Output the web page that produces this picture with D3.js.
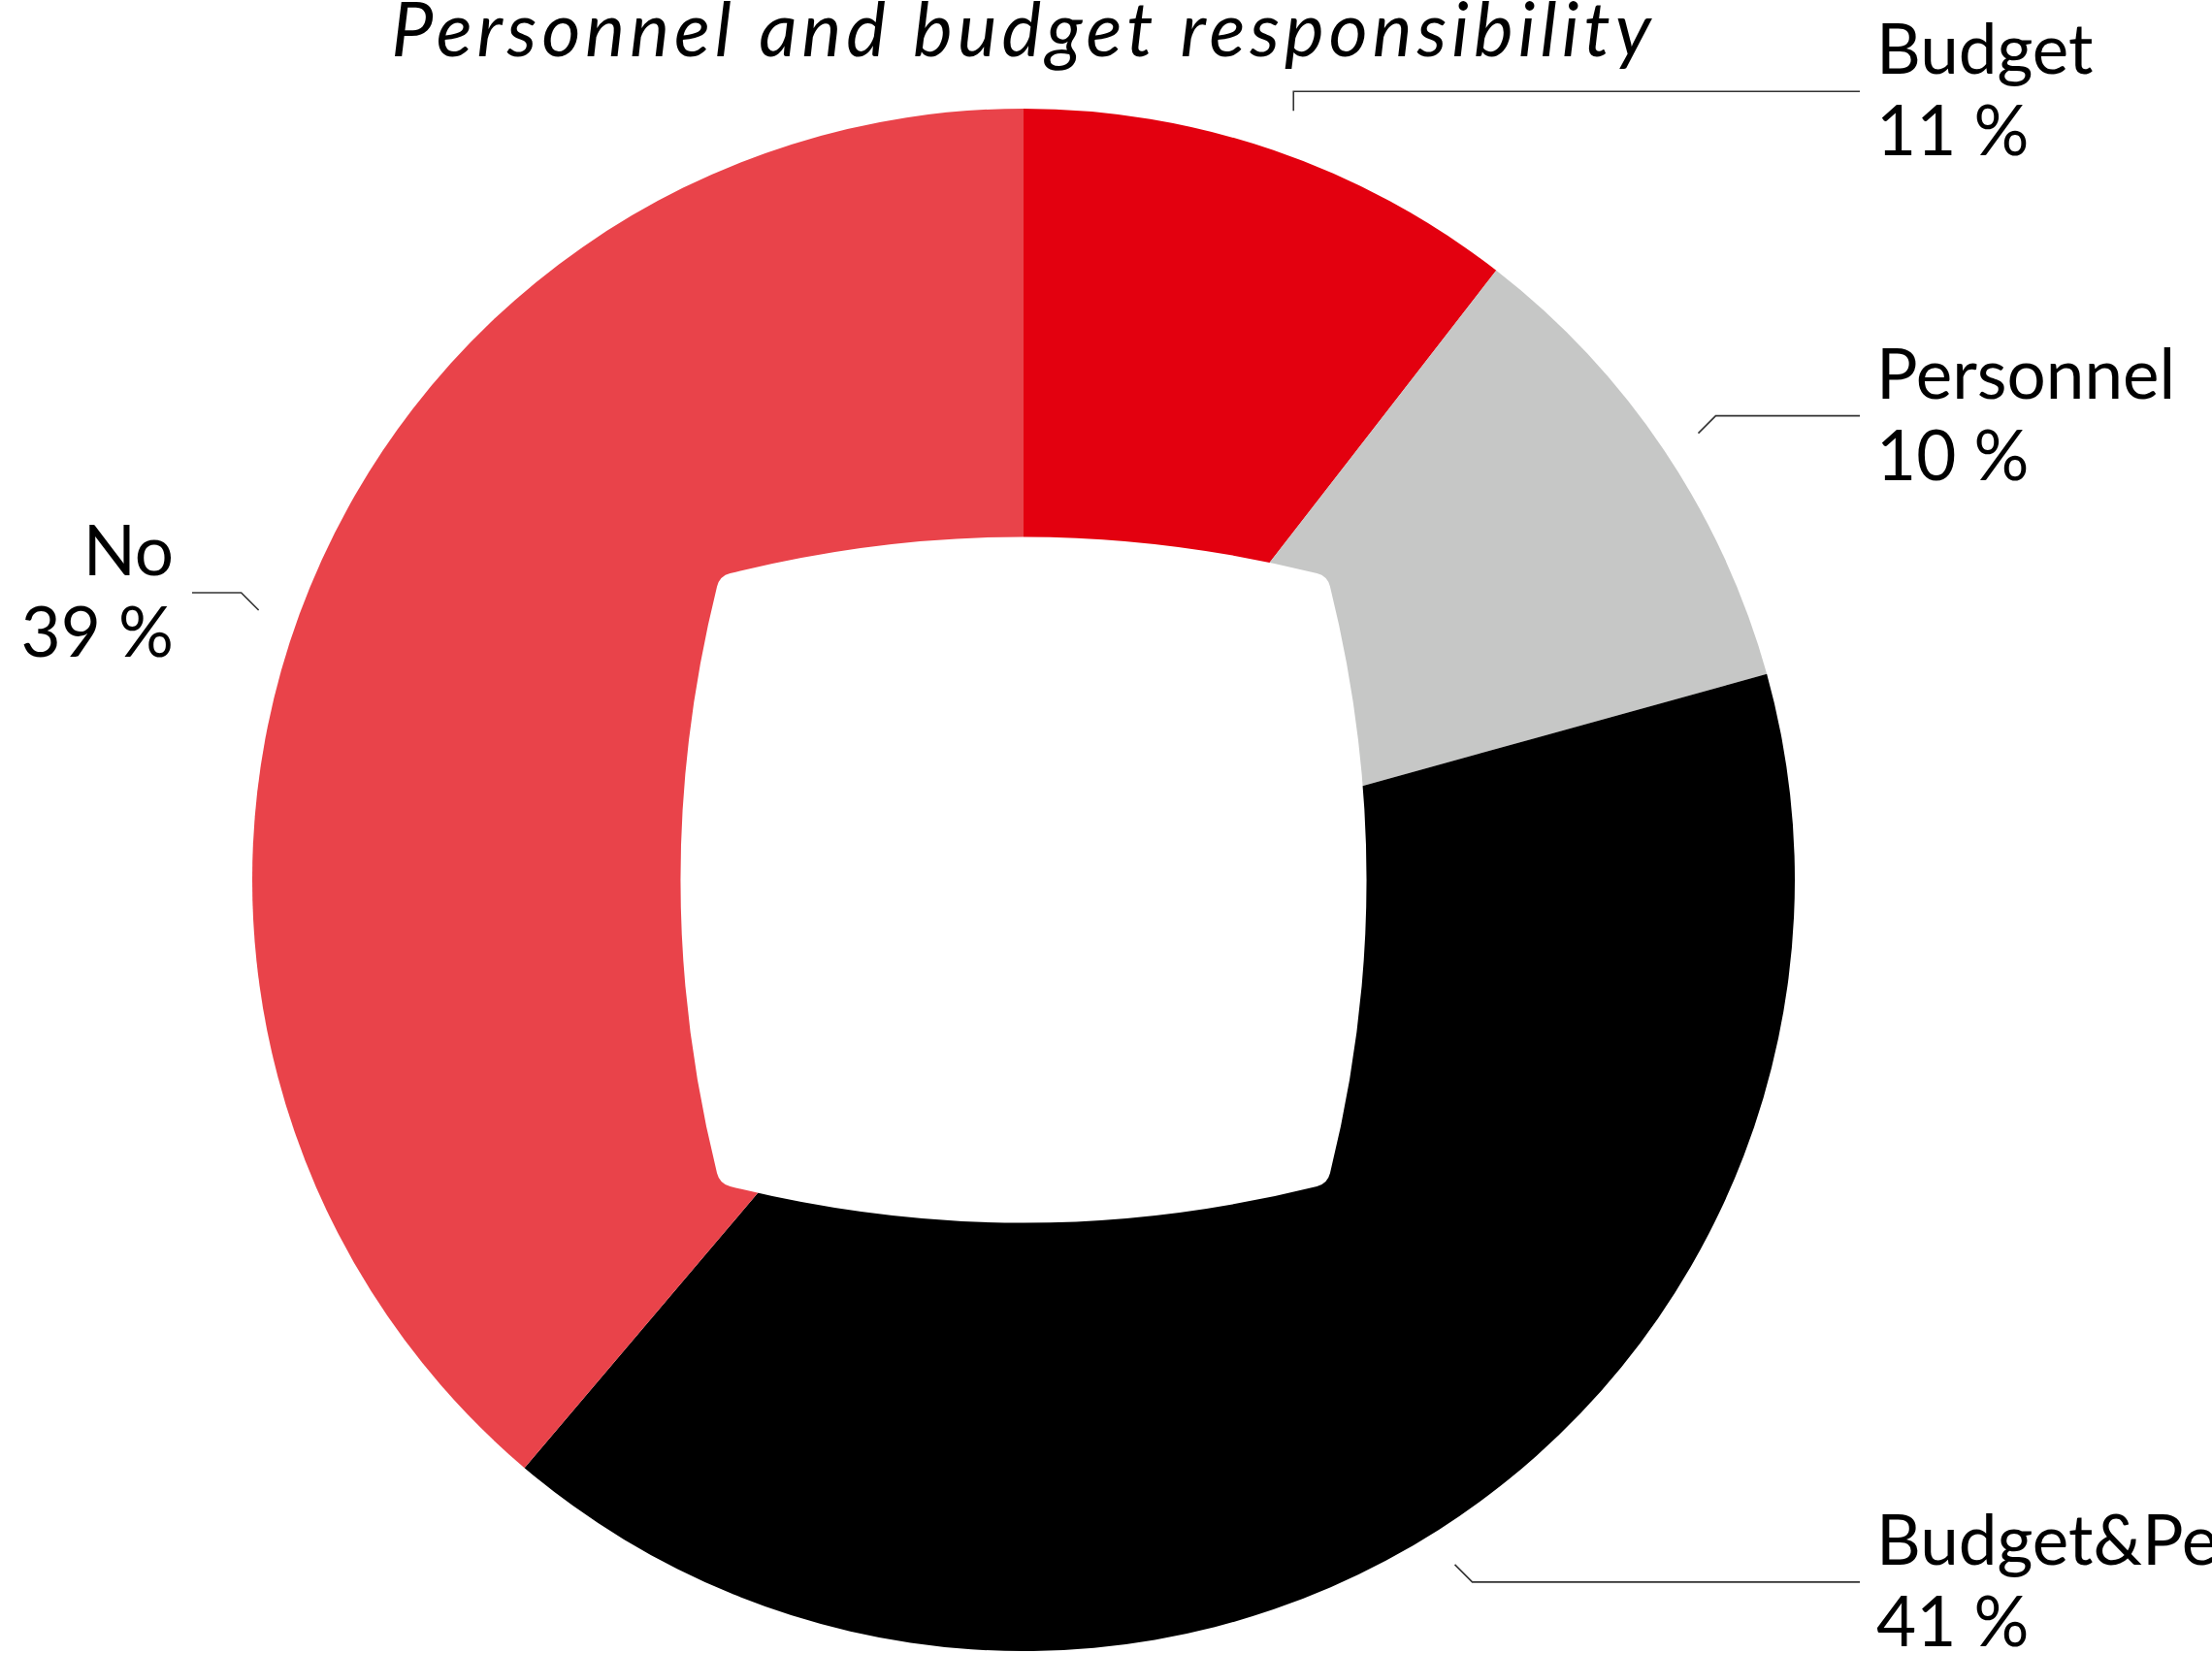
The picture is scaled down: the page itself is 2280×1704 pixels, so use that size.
<!DOCTYPE html>
<html>
<head>
<meta charset="utf-8">
<title>Personnel and budget responsibility</title>
<script src="https://cdn.jsdelivr.net/npm/d3@7"></script>
<style>
  body { margin: 0; background: #fff; }
  svg { display: block; }
</style>
</head>
<body>
<svg id="chart"></svg>
<script>
// data
var categories = ["Budget", "Personnel", "Budget&Personnel", "No"];
var shares = [10.5, 10.2, 40.5, 38.8];
var colors = ["#e3000f", "#c6c7c6", "#000000", "#e9434a"];
var title = "Personnel and budget responsibility";

var width = 2280, height = 1704;
var cx = 1055, cy = 907, R = 795;

var svg = d3.select("#chart")
  .attr("width", width)
  .attr("height", height)
  .style("font-family", "Lato, 'Noto Sans', sans-serif");

var data = categories.map(function(c, i) { return {name: c, value: shares[i], color: colors[i]}; });

var pie = d3.pie().sort(null).value(function(d) { return d.value; });
var arcs = pie(data);
var arc = d3.arc().innerRadius(0).outerRadius(R);

var g = svg.append("g").attr("transform", "translate(" + cx + "," + cy + ")");

g.selectAll("path.slice")
  .data(arcs)
  .enter().append("path")
  .attr("class", "slice")
  .attr("d", arc)
  .attr("fill", function(d) { return d.data.color; });

// squircle-shaped hole in the middle
function holePath(R) {
  var h = 0.443 * R, c = 0.394 * R, k = 2 * h - c, r = 0.014 * R;
  var pts = [[-c, -c], [c, -c], [c, c], [-c, c]];
  var ctrls = [[0, -k], [k, 0], [0, k], [-k, 0]];
  function toward(a, b, d) {
    var dx = b[0] - a[0], dy = b[1] - a[1], L = Math.hypot(dx, dy);
    return [a[0] + dx / L * d, a[1] + dy / L * d];
  }
  var p = d3.path();
  for (var i = 0; i < 4; i++) {
    var a = pts[i], b = pts[(i + 1) % 4], ctl = ctrls[i];
    var s = toward(a, ctl, r), e = toward(b, ctl, r);
    if (i === 0) p.moveTo(s[0], s[1]);
    p.quadraticCurveTo(ctl[0], ctl[1], e[0], e[1]);
    var s2 = toward(b, ctrls[(i + 1) % 4], r);
    p.quadraticCurveTo(b[0], b[1], s2[0], s2[1]);
  }
  p.closePath();
  return p.toString();
}

g.append("path")
  .attr("d", holePath(R))
  .attr("fill", "#fff");

// leader lines and labels
var r2 = R + 64;
var rightX = cx + R + 84, leftX = cx - R - 81;

arcs.forEach(function(d) {
  var a = (d.startAngle + d.endAngle) / 2;
  var right = a < Math.PI;
  var sx = Math.sin(a), cy_ = -Math.cos(a);
  var p2 = [cx + sx * r2, cy + cy_ * r2];
  var p1;
  if (Math.abs(sx) < 0.4) {
    // near the top or bottom: straight vertical tick
    p1 = [p2[0], p2[1] - Math.sign(cy_) * 20];
  } else {
    // otherwise a 45 degree tick towards the ring
    p1 = [p2[0] - Math.sign(sx) * 18, p2[1] - Math.sign(cy_) * 18];
  }
  var p3 = [right ? rightX - 17 : leftX + 19, p2[1]];

  svg.append("path")
    .attr("d", d3.line()([p1, p2, p3]))
    .attr("fill", "none")
    .attr("stroke", "#333")
    .attr("stroke-width", 1.6);

  var t = svg.append("text")
    .attr("x", right ? rightX : leftX)
    .attr("text-anchor", right ? "start" : "end")
    .attr("font-size", 71)
    .attr("fill", "#000");
  t.append("tspan")
    .attr("x", right ? rightX : leftX)
    .attr("y", p2[1] - 18)
    .text(d.data.name);
  t.append("tspan")
    .attr("x", right ? rightX : leftX)
    .attr("y", p2[1] + 66)
    .text(Math.round(d.data.value) + " %");
});

svg.append("text")
  .attr("x", cx)
  .attr("y", 58)
  .attr("text-anchor", "middle")
  .attr("font-size", 77)
  .attr("font-style", "italic")
  .attr("letter-spacing", 5)
  .attr("fill", "#000")
  .text(title);
</script>
</body>
</html>
